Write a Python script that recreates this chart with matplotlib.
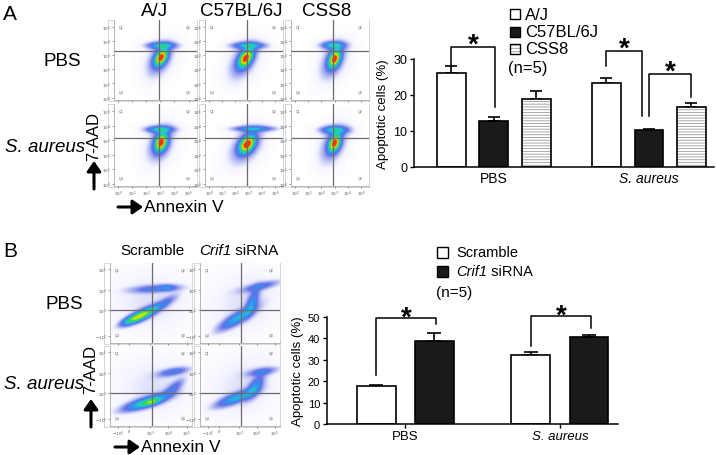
import numpy as np
import matplotlib
matplotlib.use('Agg')
import matplotlib.pyplot as plt
from matplotlib.colors import LinearSegmentedColormap
from matplotlib.patches import Rectangle
import matplotlib.transforms as mtransforms

plt.rcParams['font.family'] = ['Liberation Sans', 'DejaVu Sans']
plt.rcParams['hatch.linewidth'] = 0.6

W, H = 716, 456

# ---- bar data (panel A) ----
groups_a = ['PBS', 'S. aureus']
strains_a = ['A/J', 'C57BL/6J', 'CSS8']
apop_a = [[26.0, 12.8, 18.9],      # PBS
          [23.4, 10.2, 16.8]]      # S. aureus
sem_a = [[2.1, 1.1, 2.2],
         [1.2, 0.4, 1.0]]

# ---- bar data (panel B) ----
groups_b = ['PBS', 'S. aureus']
treat_b = [('', 'Scramble'), ('Crif1', ' siRNA')]   # (italic part, roman part)
apop_b = [[17.6, 38.9],
          [32.4, 40.8]]
sem_b = [[0.6, 3.8],
         [1.3, 0.9]]

# significance brackets: (x_left, x_right, y_left, y_right, y_top)
sig_a = [(-1.0, 0.02, 28.2, 16.7, 33.3),
         (2.65, 3.48, 28.1, 14.2, 32.2),
         (3.64, 4.65, 14.2, 19.4, 25.8)]
sig_b = [(-0.5, 0.52, 22.9, 46.7, 49.4),
         (2.16, 3.2, 36.3, 44.7, 50.3)]

# ---- flow cytometry populations: (cx, cy, s_major, s_minor, angle, weight) ----
flow_a_pbs = [
    [(3.05, 2.85, 0.40, 0.24, 60, 0.95), (2.95, 2.70, 0.80, 0.45, 60, 0.16),
     (2.95, 2.60, 1.20, 0.80, 60, 0.06), (3.10, 3.70, 0.60, 0.14, 0, 0.35),
     (3.05, 3.70, 0.85, 0.25, 0, 0.10)],
    [(2.80, 2.80, 0.46, 0.27, 55, 0.95), (2.60, 2.60, 0.90, 0.50, 55, 0.16),
     (2.60, 2.50, 1.30, 0.85, 55, 0.06), (3.00, 3.70, 0.75, 0.13, 0, 0.32),
     (3.00, 3.70, 1.00, 0.25, 0, 0.10)],
    [(3.00, 2.75, 0.42, 0.25, 65, 0.95), (2.90, 2.60, 0.85, 0.48, 60, 0.16),
     (2.90, 2.50, 1.25, 0.80, 60, 0.06), (2.90, 3.72, 0.52, 0.15, 0, 0.36),
     (2.90, 3.72, 0.80, 0.28, 0, 0.10)],
]
flow_a_sa = [
    [(3.05, 2.85, 0.40, 0.26, 70, 0.95), (3.00, 2.75, 0.80, 0.48, 65, 0.16),
     (3.00, 2.65, 1.20, 0.80, 65, 0.06), (2.95, 3.75, 0.58, 0.13, 0, 0.35),
     (2.95, 3.75, 0.85, 0.25, 0, 0.10)],
    [(2.90, 2.72, 0.44, 0.29, 45, 1.00), (2.80, 2.60, 0.90, 0.55, 45, 0.16),
     (2.80, 2.50, 1.30, 0.85, 45, 0.06), (3.40, 3.80, 0.95, 0.11, 0, 0.30),
     (3.40, 3.80, 1.20, 0.22, 0, 0.08)],
    [(3.00, 2.80, 0.40, 0.25, 65, 0.95), (2.90, 2.70, 0.85, 0.48, 60, 0.16),
     (2.90, 2.60, 1.25, 0.80, 60, 0.06), (3.00, 3.72, 0.62, 0.15, 0, 0.35),
     (3.00, 3.72, 0.90, 0.28, 0, 0.10)],
]
flow_b_pbs = [
    [(2.55, 2.76, 0.60, 0.15, 23, 0.75), (1.90, 2.50, 0.40, 0.12, 20, 0.25),
     (3.80, 3.35, 0.50, 0.14, 28, 0.18), (3.30, 4.05, 0.90, 0.12, 3, 0.22),
     (4.00, 4.10, 0.30, 0.10, 0, 0.15), (3.00, 3.40, 1.60, 1.10, 0, 0.06)],
    [(2.90, 2.60, 0.75, 0.18, 27, 0.38), (3.75, 3.40, 0.45, 0.18, 65, 0.28),
     (4.20, 4.17, 0.70, 0.12, 11, 0.22), (3.30, 3.40, 1.60, 1.10, 20, 0.06)],
]
flow_b_sa = [
    [(2.80, 2.55, 0.85, 0.16, 15, 0.50), (3.10, 2.55, 0.30, 0.10, 15, 0.30),
     (4.30, 3.25, 0.45, 0.16, 35, 0.20), (4.30, 4.05, 0.55, 0.12, 9, 0.25),
     (3.20, 3.30, 1.60, 1.10, 10, 0.06)],
    [(2.80, 2.75, 0.75, 0.16, 18, 0.38), (3.90, 3.30, 0.45, 0.20, 50, 0.30),
     (4.30, 4.05, 0.55, 0.12, 8, 0.22), (3.30, 3.40, 1.60, 1.10, 20, 0.06)],
]

flow_cmap = LinearSegmentedColormap.from_list('flow', [
    (0.0, 'white'), (0.04, '#f2f3ff'), (0.10, '#b4baf2'), (0.20, '#6272e6'),
    (0.33, '#3090f0'), (0.48, '#20cfd0'), (0.64, '#30d050'), (0.82, '#c8f000'),
    (0.93, '#ffc000'), (1.0, '#ff3000')])


def px_rect(x0, x1, y0, y1):
    return [x0 / W, 1 - y1 / H, (x1 - x0) / W, (y1 - y0) / H]


def density(xx, yy, pops):
    d = np.zeros_like(xx)
    for cx, cy, smaj, smin, ang, w in pops:
        t = np.radians(ang)
        dx, dy = xx - cx, yy - cy
        u = dx * np.cos(t) + dy * np.sin(t)
        v = -dx * np.sin(t) + dy * np.cos(t)
        d += w * np.exp(-0.5 * ((u / smaj) ** 2 + (v / smin) ** 2))
    return d


def flow_panel(fig, cell, pops, xlim, ylim, vline, hline, xt, xtl, yt, ytl, show_xl):
    x0, x1, y0, y1 = cell
    # light frame of the whole cell, plot area leaves room for the tick labels
    frame = fig.add_axes(px_rect(x0, x1, y0, y1))
    frame.set_xticks([])
    frame.set_yticks([])
    for s in frame.spines.values():
        s.set_color('#d0d0d0')
        s.set_linewidth(0.6)
    ax = fig.add_axes(px_rect(x0 + 6, x1, y0, y1 - 1))
    gx = np.linspace(xlim[0], xlim[1], 160)
    gy = np.linspace(ylim[0], ylim[1], 160)
    xx, yy = np.meshgrid(gx, gy)
    ax.imshow(density(xx, yy, pops), cmap=flow_cmap, vmin=0, vmax=1,
              origin='lower', extent=[xlim[0], xlim[1], ylim[0], ylim[1]],
              aspect='auto', interpolation='bilinear')
    ax.axvline(vline, color='#6a6a6a', lw=0.9)
    ax.axhline(hline, color='#6a6a6a', lw=0.9)
    ax.set_xlim(xlim)
    ax.set_ylim(ylim)
    ax.set_xticks(xt)
    ax.set_xticklabels(xtl if show_xl else [])
    ax.set_yticks(yt)
    ax.set_yticklabels(ytl)
    ax.tick_params(labelsize=3, length=1.5, width=0.4, pad=0.8, colors='#555555')
    for k, s in ax.spines.items():
        s.set_visible(k in ('left', 'bottom'))
        s.set_color('#9a9a9a')
        s.set_linewidth(0.5)
    kw = dict(fontsize=2.6, color='#666666', transform=ax.transAxes)
    ax.text(0.06, 0.94, 'Q1', va='top', **kw)
    ax.text(0.92, 0.94, 'Q2', va='top', ha='right', **kw)
    ax.text(0.92, 0.09, 'Q3', ha='right', **kw)
    ax.text(0.06, 0.09, 'Q4', **kw)
    return ax


fig = plt.figure(figsize=(W / 100, H / 100), dpi=100)

# ---- panel A flow plots ----
cols_a = [(108, 197), (199, 283), (285, 369)]
rows_a = [(21, 102), (105, 188)]
dec = ['$10^0$', '$10^1$', '$10^2$', '$10^3$', '$10^4$', '$10^5$']
for r, (rowpops, hl) in enumerate([(flow_a_pbs, 3.28), (flow_a_sa, 3.17)]):
    for c in range(3):
        flow_panel(fig, (*cols_a[c], *rows_a[r]), rowpops[c],
                   (-0.3, 5.6), (-0.17, 5.5), 2.9, hl,
                   range(6), dec, range(6), dec, r == 1)

# ---- panel B flow plots ----
cols_b = [(104, 192), (194, 280)]
rows_b = [(264, 345), (347, 428)]
xt_b = [1.25, 1.85, 3, 4, 5]
xtl_b = ['$-10^2$', '0', '$10^3$', '$10^4$', '$10^5$']
yt_b = [1.75, 3, 4, 5]
ytl_b = ['$-10^2$', '$10^3$', '$10^4$', '$10^5$']
for r, rowpops in enumerate([flow_b_pbs, flow_b_sa]):
    for c in range(2):
        flow_panel(fig, (*cols_b[c], *rows_b[r]), rowpops[c],
                   (0.8, 5.3), (1.4, 5.3), 3.1, 3.0,
                   xt_b, xtl_b, yt_b, ytl_b, r == 1)

# ---- bar chart A ----
ax_a = fig.add_axes(px_rect(414, 714, 60, 168))
centers_a = [0, 3.65]
offs_a = [-1, 0, 1]
wid_a = 0.68
for g, gc in enumerate(centers_a):
    xs = [gc + o for o in offs_a]
    ax_a.errorbar(xs, apop_a[g], yerr=[[0, 0, 0], sem_a[g]], fmt='none',
                  ecolor='black', elinewidth=1.2, capsize=4.5, capthick=1.2, zorder=1)
    ax_a.bar(xs[0], apop_a[g][0], wid_a, color='white', edgecolor='black', lw=1.2, zorder=2)
    ax_a.bar(xs[1], apop_a[g][1], wid_a, color='#1a1a1a', edgecolor='black', lw=1.2, zorder=2)
    ax_a.bar(xs[2], apop_a[g][2], wid_a, color='white', edgecolor='#9a9a9a',
             hatch='------', lw=0, zorder=2)
    ax_a.bar(xs[2], apop_a[g][2], wid_a, fill=False, edgecolor='black', lw=1.2, zorder=3)
ax_a.set_xlim(-1.88, 5.18)
ax_a.set_ylim(0, 30)
ax_a.set_yticks([0, 10, 20, 30])
ax_a.set_xticks(centers_a)
ax_a.set_xticklabels(groups_a, fontsize=10)
ax_a.get_xticklabels()[1].set_fontstyle('italic')
ax_a.tick_params(axis='x', length=0, pad=3)
ax_a.tick_params(axis='y', labelsize=9, length=3, width=1, pad=2)
ax_a.set_ylabel('Apoptotic cells (%)', fontsize=9.5, labelpad=3)
for s in ['top', 'right']:
    ax_a.spines[s].set_visible(False)
for s in ['left', 'bottom']:
    ax_a.spines[s].set_linewidth(1.1)

# ---- bar chart B ----
ax_b = fig.add_axes(px_rect(327, 618, 318, 425))
centers_b = [0, 2.66]
offs_b = [-0.5, 0.5]
wid_b = 0.67
for g, gc in enumerate(centers_b):
    xs = [gc + o for o in offs_b]
    ax_b.errorbar(xs, apop_b[g], yerr=[[0, 0], sem_b[g]], fmt='none',
                  ecolor='black', elinewidth=1.2, capsize=5, capthick=1.2, zorder=1)
    ax_b.bar(xs[0], apop_b[g][0], wid_b, color='white', edgecolor='black', lw=1.2, zorder=2)
    ax_b.bar(xs[1], apop_b[g][1], wid_b, color='#1a1a1a', edgecolor='black', lw=1.2, zorder=2)
ax_b.set_xlim(-1.35, 3.66)
ax_b.set_ylim(0, 50)
ax_b.set_yticks([0, 10, 20, 30, 40, 50])
ax_b.set_xticks(centers_b)
ax_b.set_xticklabels(groups_b, fontsize=9.5)
ax_b.get_xticklabels()[1].set_fontstyle('italic')
ax_b.tick_params(axis='x', length=3, width=1, pad=1)
ax_b.tick_params(axis='y', labelsize=8, length=3, width=1, pad=2)
ax_b.set_ylabel('Apoptotic cells (%)', fontsize=9.5, labelpad=3)
for s in ['top', 'right']:
    ax_b.spines[s].set_visible(False)
for s in ['left', 'bottom']:
    ax_b.spines[s].set_linewidth(1.1)

# brackets and stars (star centre sits a few px above the bracket)
STAR = 20
for ax, sigs, lift in [(ax_a, sig_a, -3.3), (ax_b, sig_b, -4.7)]:
    star_tr = mtransforms.offset_copy(ax.transData, fig=fig, y=lift, units='points')
    for x0, x1, y0, y1, top in sigs:
        ax.plot([x0, x0, x1, x1], [y0, top, top, y1], color='black', lw=1.1,
                clip_on=False, zorder=4)
        ax.text((x0 + x1) / 2, top, '*', fontsize=STAR, fontweight='bold',
                ha='center', va='baseline', transform=star_tr, clip_on=False)

# ---- overlay for labels, legends, arrows ----
ov = fig.add_axes([0, 0, 1, 1], zorder=10)
ov.set_xlim(0, W)
ov.set_ylim(H, 0)
ov.axis('off')
ov.patch.set_alpha(0)


def mixed_text(x, y, parts, fs):
    # italic gene name followed by roman text, left aligned at x
    it, rm = parts
    if it:
        t = ov.text(x, y, it, fontsize=fs, va='center', fontstyle='italic')
        ov.annotate(rm, xy=(1, 0.5), xycoords=t, fontsize=fs, va='center', ha='left')
    else:
        ov.text(x, y, rm, fontsize=fs, va='center')


ov.text(3, 14, 'A', fontsize=15, va='center')
ov.text(3, 252, 'B', fontsize=15, va='center')

for txt, xc in zip(strains_a, [155, 241, 327]):
    ov.text(xc, 12, txt, fontsize=13.5, ha='center', va='center')
ov.text(62, 62, 'PBS', fontsize=13.5, ha='center', va='center')
ov.text(45, 148, 'S. aureus', fontsize=13.5, ha='center', va='center', fontstyle='italic')

for parts, xl in zip(treat_b, [120, 199]):
    mixed_text(xl, 251, parts, 11)
ov.text(64, 305, 'PBS', fontsize=13.5, ha='center', va='center')
ov.text(44, 385, 'S. aureus', fontsize=13.5, ha='center', va='center', fontstyle='italic')

arrow = dict(arrowstyle='-|>,head_length=0.5,head_width=0.35', lw=2.2, color='black',
             shrinkA=0, shrinkB=0, mutation_scale=12)
for yx, fs, y_txt, y_a0, y_a1, x_ann, y_ann in [(94, 12, 137, 190, 162, 118, 208),
                                                (91, 12, 370, 428, 400, 115, 448)]:
    ov.text(yx, y_txt, '7-AAD', fontsize=fs, rotation=90, ha='center', va='center')
    ov.annotate('', xy=(yx, y_a1), xytext=(yx, y_a0), arrowprops=arrow)
    ov.annotate('', xy=(x_ann + 25, y_ann), xytext=(x_ann, y_ann), arrowprops=arrow)
    ov.text(x_ann + 26, y_ann, 'Annexin V', fontsize=12.5, va='center')

# legend A
leg_a_y = [15, 32.5, 50]
for i, (lab, yc) in enumerate(zip(strains_a, leg_a_y)):
    if i == 1:
        ov.add_patch(Rectangle((510, yc - 5), 9.5, 10, facecolor='#1a1a1a', edgecolor='black', lw=1))
    elif i == 2:
        ov.add_patch(Rectangle((510, yc - 5), 9.5, 10, facecolor='white', edgecolor='#9a9a9a',
                               hatch='-----', lw=0))
        ov.add_patch(Rectangle((510, yc - 5), 9.5, 10, fill=False, edgecolor='black', lw=1))
    else:
        ov.add_patch(Rectangle((510, yc - 5), 9.5, 10, facecolor='white', edgecolor='black', lw=1))
    ov.text(525, yc, lab, fontsize=12, va='center')
ov.text(508, 69, '(n=5)', fontsize=12, va='center')

# legend B
leg_b_y = [253, 272.5]
for i, (parts, yc) in enumerate(zip(treat_b, leg_b_y)):
    fc = '#1a1a1a' if i == 1 else 'white'
    ov.add_patch(Rectangle((437, yc - 5.5), 11, 11, facecolor=fc, edgecolor='black', lw=1))
    mixed_text(456, yc, parts, 10.5)
ov.text(436, 293, '(n=5)', fontsize=11, va='center')

fig.savefig('out.png', dpi=100)
